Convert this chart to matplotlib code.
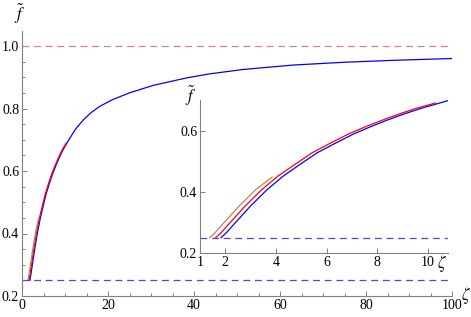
import numpy as np
import matplotlib.pyplot as plt

plt.rcParams['mathtext.fontset'] = 'stix'
plt.rcParams['font.family'] = 'Liberation Serif'

# blue curve (full range)
zeta_blue = [1.83, 2.05, 2.33, 2.99, 3.65, 4.30, 4.96, 5.62, 6.4, 7.07, 7.75, 8.39, 9.05,
             9.71, 10.3, 10.76, 12.5, 14.3, 16.0, 18.1, 21.0, 25.0, 30.5, 38.3, 43.7,
             51.5, 63.0, 75.0, 86.0, 100.0]
f_blue = [0.25, 0.267, 0.293, 0.353, 0.407, 0.452, 0.49, 0.527, 0.561, 0.589, 0.613, 0.634, 0.654,
          0.672, 0.686, 0.697, 0.735, 0.764, 0.786, 0.807, 0.828, 0.85, 0.874, 0.898, 0.911,
          0.925, 0.939, 0.948, 0.954, 0.96]

# red curve
zeta_red = [1.62, 1.84, 2.12, 2.78, 3.44, 4.09, 4.76, 5.42, 6.2, 6.87, 7.55, 8.2, 8.86, 9.55, 10.3]
f_red = [0.25, 0.267, 0.293, 0.353, 0.407, 0.452, 0.49, 0.527, 0.561, 0.589, 0.613, 0.634, 0.654,
         0.673, 0.69]

# brown curve
zeta_brown = [1.38, 1.6, 1.88, 2.54, 3.2, 3.85]
f_brown = [0.25, 0.267, 0.293, 0.353, 0.407, 0.448]

f_low = 0.25
f_high = 1.0

W, H = 471, 317
fig = plt.figure(figsize=(W / 100, H / 100), dpi=100)

axis_col = '#808080'
blue_dash = '#4a4ad2'
pink_dash = '#c682a6'
brown = '#b08a5a'


def style(ax):
    for s in ['top', 'right']:
        ax.spines[s].set_visible(False)
    for s in ['left', 'bottom']:
        ax.spines[s].set_color(axis_col)
        ax.spines[s].set_linewidth(0.8)
    ax.tick_params(which='both', direction='in', color=axis_col, width=0.7,
                   labelsize=10, pad=2)
    ax.tick_params(which='major', length=3.5)
    ax.tick_params(which='minor', length=2)


# main axes
ax = fig.add_axes([22 / W, 1 - 296 / H, 430 / W, 265 / H])
ax.plot(zeta_blue, f_blue, color='blue', lw=0.9)
ax.plot(zeta_red, f_red, color='red', lw=0.9)
ax.plot(zeta_brown, f_brown, color=brown, lw=0.9)
ax.axhline(f_low, color=blue_dash, lw=0.9, dashes=(5.5, 3.8))
ax.axhline(f_high, color=pink_dash, lw=0.9, dashes=(5.5, 3.8))
ax.set_xlim(0, 100)
ax.set_ylim(0.2, 1.048)
ax.set_xticks([0, 20, 40, 60, 80, 100])
ax.set_xticks(np.arange(0, 101, 5), minor=True)
ax.set_yticks([0.2, 0.4, 0.6, 0.8, 1.0])
ax.set_yticklabels(['0.2', '0.4', '0.6', '0.8', '1.0'])
ax.set_yticks(np.arange(0.2, 1.05, 0.05), minor=True)
style(ax)

# inset
ins = fig.add_axes([200 / W, 1 - 253 / H, 248 / W, 153 / H])
ins.patch.set_alpha(0)
ins.plot(zeta_blue, f_blue, color='blue', lw=0.9)
ins.plot(zeta_red, f_red, color='red', lw=0.9)
ins.plot(zeta_brown, f_brown, color=brown, lw=0.9)
ins.axhline(f_low, color=blue_dash, lw=0.9, dashes=(5.5, 3.8))
ins.set_xlim(1, 10.8)
ins.set_ylim(0.2, 0.70)
ins.set_xticks([1, 2, 4, 6, 8, 10])
ins.set_yticks([0.2, 0.4, 0.6])
ins.set_yticklabels(['0.2', '0.4', '0.6'])
style(ins)

fig.text(20 / W, 1 - 14 / H, r'$\tilde{f}$', fontsize=12, ha='center', va='center')
fig.text(466 / W, 1 - 296 / H, r'$\zeta$', fontsize=12, ha='center', va='center')
fig.text(191 / W, 1 - 96 / H, r'$\tilde{f}$', fontsize=12, ha='center', va='center')
fig.text(442 / W, 1 - 264 / H, r'$\zeta$', fontsize=12, ha='center', va='center')

fig.savefig('out.png', dpi=100)
